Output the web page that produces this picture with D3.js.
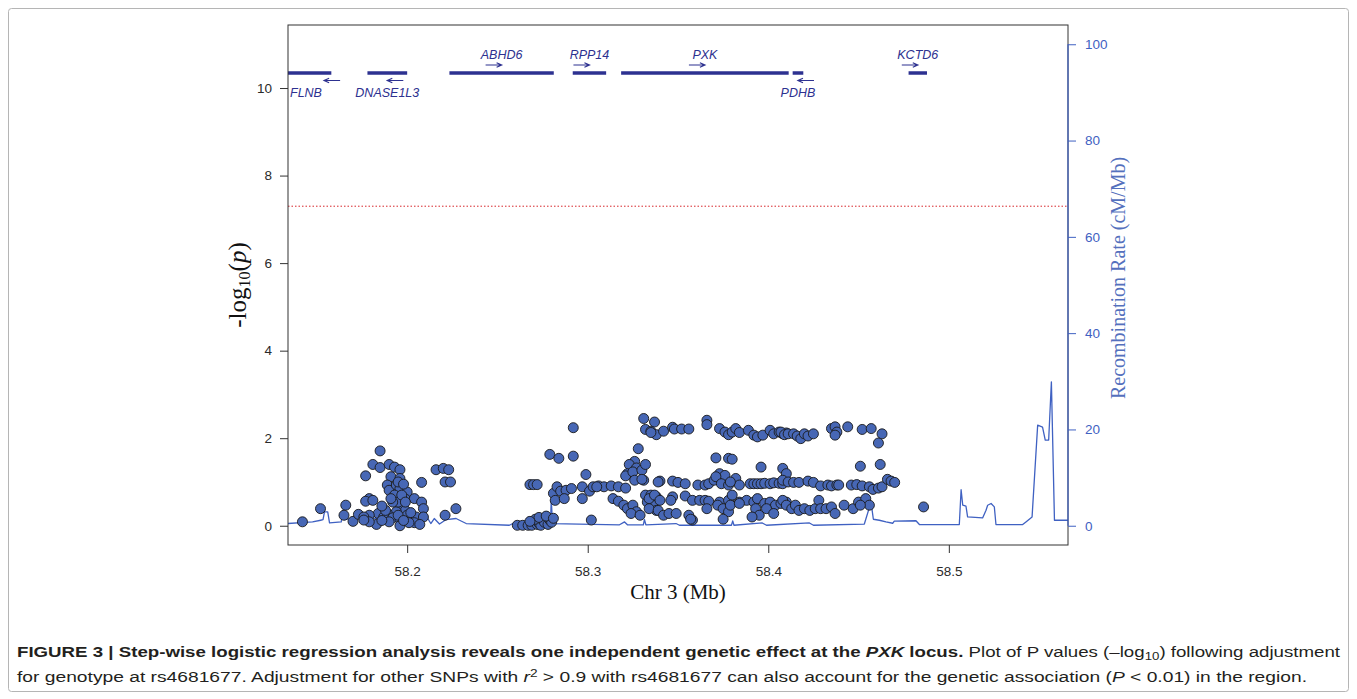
<!DOCTYPE html>
<html>
<head>
<meta charset="utf-8">
<script src="https://d3js.org/d3.v7.min.js"></script>
<style>
  body { margin: 0; background: #fff; }
  svg { display: block; }
</style>
</head>
<body>
<div id="chart"></div>
<script>
// SNP results, [position (Mb), -log10(p)]
const snpsFlnbDnase = [
    [58.142,0.09],[58.152,0.39],[58.166,0.47],[58.165,0.24],[58.170,0.10],[58.173,0.26],
    [58.185,1.71],[58.181,1.40],[58.185,1.33],[58.190,1.40],[58.193,1.34],[58.196,1.28],
    [58.177,1.14],[58.191,1.12],[58.196,1.08],[58.189,0.93],[58.190,0.81],[58.194,0.93],
    [58.196,0.85],[58.200,0.77],[58.199,0.61],[58.193,0.70],[58.179,0.62],[58.177,0.56],
    [58.181,0.58],[58.204,0.62],[58.208,0.99],[58.208,0.54],[58.209,0.39],[58.196,0.43],
    [58.199,0.35],[58.194,0.32],[58.189,0.28],[58.184,0.28],[58.179,0.24],[58.176,0.20],
    [58.187,0.20],[58.192,0.18],[58.196,0.16],[58.200,0.24],[58.205,0.20],[58.209,0.20],
    [58.204,0.07],[58.207,0.03],[58.196,0.00],[58.183,0.03],[58.179,0.09],[58.176,0.13],
    [58.190,0.09],[58.201,0.07],[58.216,1.28],[58.220,1.31],[58.223,1.28],[58.221,1.00],
    [58.224,1.00],[58.221,0.24],[58.227,0.39],[58.195,0.24],[58.195,0.54],[58.197,0.70],
    [58.192,0.54],[58.188,0.35],[58.199,0.54],[58.186,0.12],[58.198,0.12],[58.202,0.30],
    [58.186,0.45],[58.191,0.62],[58.195,1.00],[58.198,0.95]
];
const snpsAbhd6Rpp14 = [
    [58.261,0.01],[58.264,0.01],[58.267,0.01],[58.269,0.01],[58.272,0.03],[58.273,0.06],
    [58.274,0.01],[58.276,0.08],[58.278,0.03],[58.279,0.13],[58.280,0.08],[58.271,0.15],
    [58.273,0.19],[58.277,0.22],[58.281,0.17],[58.268,0.10],
    [58.292,2.24],[58.279,1.63],[58.284,1.54],[58.292,1.59],[58.268,0.94],[58.270,0.94],
    [58.272,0.94],[58.299,1.17],[58.281,0.74],[58.283,0.89],[58.285,0.79],[58.288,0.81],
    [58.291,0.85],[58.282,0.58],[58.287,0.62],[58.297,0.89],[58.297,0.62],[58.301,0.79],
    [58.303,0.89],[58.306,0.91],[58.309,0.89],[58.313,0.91],[58.317,0.89],[58.321,0.86],
    [58.305,0.89],[58.302,0.13],[58.314,0.62],[58.317,0.56],[58.320,0.47],[58.322,0.39],
    [58.325,0.47],[58.327,0.32],[58.324,0.28],[58.329,0.24],[58.326,1.47],[58.323,1.40],
    [58.327,1.32],[58.322,1.19],[58.321,1.14],[58.325,1.23],[58.330,1.27],[58.332,1.40],
    [58.326,1.04],[58.331,1.04],[58.328,1.76]
];
const snpsPxkLeft = [
    [58.331,2.45],[58.337,2.37],[58.332,2.20],[58.335,2.16],[58.338,2.08],[58.340,1.02],
    [58.332,0.70],[58.335,0.70],[58.338,0.66],[58.333,0.54],[58.336,0.47],[58.338,0.35],
    [58.335,2.13],[58.342,2.16],[58.347,2.25],[58.348,2.21],[58.352,2.21],[58.356,2.21],
    [58.366,2.41],[58.366,2.31],[58.373,2.22],[58.376,2.14],[58.378,2.08],[58.380,2.14],
    [58.382,2.22],[58.384,2.13],[58.389,2.18],[58.392,2.07],[58.394,2.03],[58.397,2.07],
    [58.401,2.18],[58.403,2.10],[58.406,2.14],[58.408,2.10],[58.410,2.12],
    [58.371,1.55],[58.378,1.54],[58.380,1.52],[58.396,1.34],
    [58.330,1.06],[58.339,1.00],[58.347,1.02],[58.350,0.99],[58.354,0.96],
    [58.361,0.93],[58.365,0.93],[58.367,0.96],[58.370,1.04],[58.373,1.19],[58.376,1.15],
    [58.371,1.12],[58.374,0.96],[58.378,0.93],[58.382,1.08],[58.384,0.93],[58.379,1.00],
    [58.390,0.96],[58.392,0.96],[58.394,0.96],[58.396,0.96],[58.398,0.97],[58.401,0.96],
    [58.403,0.98],[58.406,0.97],[58.408,0.96],
    [58.334,0.62],[58.337,0.70],[58.340,0.58],[58.347,0.66],[58.346,0.58],[58.354,0.68],
    [58.358,0.58],[58.362,0.58],[58.365,0.58],[58.367,0.56],[58.373,0.54],[58.378,0.58],
    [58.380,0.70],[58.384,0.54],[58.388,0.58],[58.392,0.54],[58.394,0.62],[58.398,0.51],
    [58.401,0.54],[58.404,0.47],[58.407,0.51],[58.410,0.54],
    [58.334,0.39],[58.339,0.35],[58.342,0.24],[58.345,0.28],[58.349,0.28],[58.356,0.24],
    [58.358,0.13],[58.366,0.39],[58.372,0.47],[58.375,0.39],[58.378,0.32],[58.379,0.47],
    [58.384,0.51],[58.393,0.39],[58.395,0.24],[58.399,0.39],[58.403,0.28],[58.375,0.15],
    [58.391,0.20],[58.357,0.15]
];
const snpsPxkRight = [
    [58.407,2.14],[58.409,2.08],[58.411,2.10],[58.414,2.10],[58.416,2.05],[58.418,1.99],
    [58.420,2.10],[58.422,2.05],[58.425,2.10],[58.435,2.22],[58.437,2.26],[58.438,2.14],
    [58.437,2.07],[58.444,2.26],[58.452,2.20],[58.457,2.22],[58.463,2.10],[58.461,1.89],
    [58.451,1.36],[58.462,1.40],
    [58.408,1.31],[58.410,1.19],[58.408,1.04],[58.411,1.00],[58.414,0.99],[58.417,0.99],
    [58.422,1.02],[58.425,0.99],[58.429,0.91],[58.433,0.93],[58.435,0.91],[58.438,0.93],
    [58.439,0.93],[58.446,0.93],[58.449,0.94],[58.452,0.91],[58.456,0.89],[58.458,0.83],
    [58.461,0.86],[58.463,0.89],[58.466,1.06],[58.468,1.02],[58.470,0.99],
    [58.408,0.58],[58.410,0.47],[58.413,0.39],[58.415,0.47],[58.417,0.35],[58.420,0.39],
    [58.423,0.35],[58.426,0.39],[58.428,0.58],[58.429,0.39],[58.432,0.39],[58.435,0.43],
    [58.437,0.28],[58.442,0.47],[58.447,0.39],[58.450,0.54],[58.454,0.62],[58.456,0.47],
    [58.451,0.47],[58.486,0.43]
];

// recombination rate (cM/Mb)
const recombPos = [58.134,58.1476,58.1521,58.1534,58.1542,58.1560,58.1570,58.1635,58.1643,58.1653,
    58.1718,58.1791,58.1957,58.2086,58.2112,58.2131,58.2150,58.2179,58.2216,58.2271,58.2290,
    58.2327,58.2566,58.2585,58.2794,58.2798,58.2805,58.3176,58.3204,58.3220,58.3308,58.3314,
    58.3322,58.3489,58.3508,58.3796,58.3803,58.3810,58.3967,58.3990,58.4228,58.4250,58.4532,
    58.4569,58.4582,58.4615,58.4652,58.4689,58.4698,58.4818,58.4837,58.5058,58.5068,58.5077,
    58.5095,58.5104,58.5187,58.5206,58.5215,58.5234,58.5252,58.5261,58.5409,58.5427,58.5461,
    58.5492,58.5519,58.5534,58.5553,58.5568,58.5585,58.566];
const recombRate = [0.46,0.79,1.14,1.25,2.87,2.87,0.58,0.79,3.22,1.29,
    1.70,1.50,1.66,1.70,1.62,0.46,1.50,0.35,1.29,1.50,1.14,
    0.46,0.10,0.46,0.52,5.5,0.42,0.20,0.79,0.20,0.20,1.29,
    0.20,0.46,0.10,0.10,1.00,0.10,0.58,0.10,0.58,0.10,0.35,
    4.9,1.35,1.14,0.79,0.52,0.94,1.04,0.25,0.25,7.48,4.26,
    4.05,1.83,1.62,3.22,4.26,4.62,3.91,0.25,0.25,0.79,1.83,
    20.9,20.5,17.8,17.8,29.9,1.14,1.14];

// genes in the region
const geneNames = ["FLNB", "DNASE1L3", "ABHD6", "RPP14", "PXK", "PDHB", "KCTD6"];
const geneStart = [58.000, 58.178, 58.2234, 58.2917, 58.3185, 58.4135, 58.4777];
const geneEnd = [58.158, 58.200, 58.2812, 58.3102, 58.4113, 58.4194, 58.4879];
const geneStrand = ["-", "-", "+", "+", "+", "-", "+"];

const leftTicks = [0, 2, 4, 6, 8, 10];
const rightTicks = [0, 20, 40, 60, 80, 100];
const xTicks = [58.2, 58.3, 58.4, 58.5];
const regionStart = 58.15;
const gwsLevel = 7.3; // -log10(5e-8)

const margin = { top: 25, right: 289, bottom: 154, left: 288 };
const width = 1357 - margin.left - margin.right;
const height = 699 - margin.top - margin.bottom;

const ptColor = "#4767b5";
const recColor = "#3f61c2";
const geneColor = "#2d3190";
const inkColor = "#231f20";
const sans = "'Liberation Sans', Arial, sans-serif";
const serif = "'Liberation Serif', 'Times New Roman', serif";

const root = d3.select("#chart").append("svg")
    .attr("width", 1357)
    .attr("height", 699);

// figure frame
root.append("rect")
    .attr("x", 8.5).attr("y", 8.5)
    .attr("width", 1340).attr("height", 683)
    .attr("rx", 3)
    .style("fill", "none")
    .style("stroke", "#b5b5b5");

const svg = root.append("g")
    .attr("transform", "translate(" + margin.left + "," + margin.top + ")");

const x = d3.scaleLinear()
    .domain([58.134, 58.566])
    .range([0, width]);

const y = d3.scaleLinear()
    .domain([-0.44, 11.44])
    .range([height, 0]);

const yRate = d3.scaleLinear()
    .domain([-0.44 * 100 / 11, 11.44 * 100 / 11])
    .range([height, 0]);

svg.append("clipPath").attr("id", "plotClip")
    .append("rect").attr("width", width).attr("height", height);

// recombination rate
const recLine = d3.line()
    .x(d => x(d[0]))
    .y(d => yRate(d[1]));

svg.append("path")
    .datum(recombPos.map((p, i) => [p, recombRate[i]]))
    .attr("clip-path", "url(#plotClip)")
    .attr("d", recLine)
    .style("fill", "none")
    .style("stroke", recColor)
    .style("stroke-width", 1.3)
    .style("stroke-linejoin", "round");

// genome-wide significance line
svg.append("line")
    .attr("x1", 0).attr("x2", width)
    .attr("y1", y(gwsLevel)).attr("y2", y(gwsLevel))
    .style("stroke", "#d7262b")
    .style("stroke-width", 1)
    .style("stroke-dasharray", "1.5,2");

// SNPs
const snps = [].concat(snpsFlnbDnase, snpsAbhd6Rpp14, snpsPxkLeft, snpsPxkRight);
svg.selectAll(".snp")
    .data(snps)
    .enter().append("circle")
    .attr("class", "snp")
    .attr("cx", d => x(d[0]))
    .attr("cy", d => y(d[1]))
    .attr("r", 5)
    .style("fill", ptColor)
    .style("stroke", "#1a1a1a")
    .style("stroke-width", 0.9);

// gene track
const genes = geneNames.map((name, i) => ({
    name: name, start: geneStart[i], end: geneEnd[i], strand: geneStrand[i]
}));
const geneY = 48;
const gTrack = svg.append("g").attr("clip-path", "url(#plotClip)");

gTrack.selectAll(".gene")
    .data(genes)
    .enter().append("line")
    .attr("class", "gene")
    .attr("x1", d => x(Math.max(d.start, x.domain()[0])))
    .attr("x2", d => x(d.end))
    .attr("y1", geneY).attr("y2", geneY)
    .style("stroke", geneColor)
    .style("stroke-width", 3.5);

function geneMid(d) {
    return x((Math.max(d.start, regionStart) + d.end) / 2);
}

gTrack.selectAll(".arrow")
    .data(genes)
    .enter().append("path")
    .attr("class", "arrow")
    .attr("d", d => {
        const c = geneMid(d);
        if (d.strand === "+") {
            const ay = geneY - 8;
            return `M${c - 16},${ay}L${c},${ay}M${c - 5},${ay - 2.2}L${c},${ay}L${c - 5},${ay + 2.2}`;
        }
        const ay = geneY + 7.5;
        return `M${c + 16},${ay}L${c},${ay}M${c + 5},${ay - 2.2}L${c},${ay}L${c + 5},${ay + 2.2}`;
    })
    .style("fill", "none")
    .style("stroke", geneColor)
    .style("stroke-width", 1.2);

gTrack.selectAll(".geneLabel")
    .data(genes)
    .enter().append("text")
    .attr("class", "geneLabel")
    .attr("x", d => d.start < x.domain()[0] ? 2 : geneMid(d))
    .attr("y", d => d.strand === "+" ? geneY - 14 : geneY + 24)
    .attr("text-anchor", d => d.start < x.domain()[0] ? "start" : "middle")
    .style("font-family", sans)
    .style("font-style", "italic")
    .style("font-size", "12.5px")
    .style("fill", geneColor)
    .text(d => d.name);

// frame
svg.append("rect")
    .attr("width", width).attr("height", height)
    .style("fill", "none")
    .style("stroke", "#333")
    .style("stroke-width", 1);

// axes
const yAxis = svg.append("g")
    .attr("class", "y axis")
    .call(d3.axisLeft(y).tickValues(leftTicks).tickSize(8).tickPadding(8));

const yRAxis = svg.append("g")
    .attr("class", "y2 axis")
    .attr("transform", "translate(" + width + ",0)")
    .call(d3.axisRight(yRate).tickValues(rightTicks).tickSize(8).tickPadding(9));

const xAxis = svg.append("g")
    .attr("class", "x axis")
    .attr("transform", "translate(0," + height + ")")
    .call(d3.axisBottom(x).tickValues(xTicks).tickFormat(d3.format(".1f")).tickSize(8).tickPadding(13));

[yAxis, xAxis, yRAxis].forEach(a => {
    a.select(".domain").remove();
    a.selectAll("text").style("font-family", sans).style("font-size", "13.5px");
});
yAxis.selectAll("line").style("stroke", "#333");
xAxis.selectAll("line").style("stroke", "#333");
yAxis.selectAll("text").style("fill", "#2a2a2a");
xAxis.selectAll("text").style("fill", "#2a2a2a");
yRAxis.selectAll("line").style("stroke", recColor);
yRAxis.selectAll("text").style("fill", recColor);

svg.append("line")
    .attr("x1", width).attr("x2", width)
    .attr("y1", yRate(0)).attr("y2", yRate(100))
    .style("stroke", recColor)
    .style("stroke-width", 1.2);

// axis titles
const yTitle = svg.append("text")
    .attr("transform", "translate(" + (-42) + "," + 260 + ") rotate(-90)")
    .attr("text-anchor", "middle")
    .style("font-family", serif)
    .style("font-size", "25px")
    .style("fill", "#111");
yTitle.append("tspan").text("-log");
yTitle.append("tspan").attr("baseline-shift", "-22%").style("font-size", "16px").text("10");
yTitle.append("tspan").text("(");
yTitle.append("tspan").style("font-style", "italic").text("p");
yTitle.append("tspan").text(")");

svg.append("text")
    .attr("x", width / 2)
    .attr("y", height + 54)
    .attr("text-anchor", "middle")
    .style("font-family", serif)
    .style("font-size", "21px")
    .style("fill", "#111")
    .text("Chr 3 (Mb)");

svg.append("text")
    .attr("transform", "translate(" + (width + 57) + "," + 253 + ") rotate(-90)")
    .attr("text-anchor", "middle")
    .style("font-family", serif)
    .style("font-size", "20px")
    .style("fill", "#5470bd")
    .text("Recombination Rate (cM/Mb)");

// caption
const capFont = "'Liberation Sans Narrow', 'Arial Narrow', 'Liberation Sans', sans-serif";
const cap1 = root.append("text")
    .attr("x", 17).attr("y", 657)
    .attr("textLength", 1323)
    .attr("lengthAdjust", "spacingAndGlyphs")
    .style("font-family", capFont)
    .style("font-size", "15.5px")
    .style("fill", inkColor);
cap1.append("tspan").style("font-weight", "bold")
    .text("FIGURE 3 | Step-wise logistic regression analysis reveals one independent genetic effect at the ");
cap1.append("tspan").style("font-weight", "bold").style("font-style", "italic").text("PXK");
cap1.append("tspan").style("font-weight", "bold").text(" locus.");
cap1.append("tspan").text(" Plot of P values (\u2013log");
cap1.append("tspan").attr("baseline-shift", "-3px").style("font-size", "11px").text("10");
cap1.append("tspan").text(") following adjustment");

const cap2 = root.append("text")
    .attr("x", 17).attr("y", 682)
    .attr("textLength", 1290)
    .attr("lengthAdjust", "spacingAndGlyphs")
    .style("font-family", capFont)
    .style("font-size", "15.5px")
    .style("fill", inkColor);
cap2.append("tspan").text("for genotype at rs4681677. Adjustment for other SNPs with ");
cap2.append("tspan").style("font-style", "italic").text("r");
cap2.append("tspan").attr("baseline-shift", "5px").style("font-size", "11px").text("2");
cap2.append("tspan").text(" > 0.9 with rs4681677 can also account for the genetic association (");
cap2.append("tspan").style("font-style", "italic").text("P");
cap2.append("tspan").text(" < 0.01) in the region.");
</script>
</body>
</html>
